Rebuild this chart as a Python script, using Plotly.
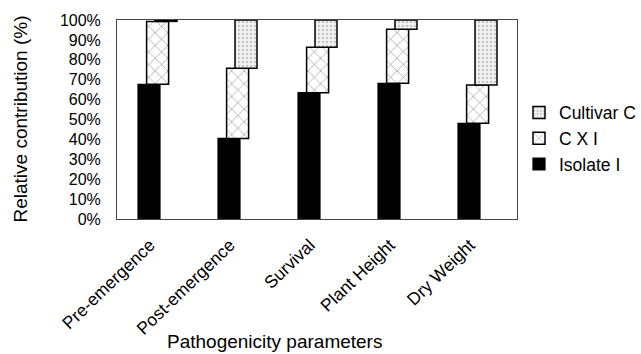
import plotly.graph_objects as go

categories = ["Pre-emergence", "Post-emergence", "Survival", "Plant Height", "Dry Weight"]
isolate_i = [67.7, 40.5, 63.5, 68.2, 48.1]
c_x_i = [31.6, 35.2, 22.8, 27.1, 19.2]
cultivar_c = [0.7, 24.3, 13.7, 4.7, 32.7]
y_ticks = [0, 10, 20, 30, 40, 50, 60, 70, 80, 90, 100]

FONT = "Arial, Liberation Sans, sans-serif"
base_cxi = isolate_i
base_cult = [a + b for a, b in zip(isolate_i, c_x_i)]

fig = go.Figure()
fig.add_trace(go.Bar(
    x=categories, y=isolate_i, name="Isolate I", width=0.275, offset=-0.2375,
    marker=dict(color="black", line=dict(color="black", width=1.2))))
fig.add_trace(go.Bar(
    x=categories, y=c_x_i, base=base_cxi, name="C X I", width=0.275, offset=-0.13,
    marker=dict(color="white", line=dict(color="black", width=1.5),
                pattern=dict(shape="x", fgcolor="black", bgcolor="white", size=9, solidity=0.12))))
fig.add_trace(go.Bar(
    x=categories, y=cultivar_c, base=base_cult, name="Cultivar C", width=0.275, offset=-0.025,
    marker=dict(color="#eeeeee", line=dict(color="black", width=1.5),
                pattern=dict(shape=".", fgcolor="#9a9a9a", bgcolor="#f2f2f2", size=4, solidity=0.3))))

fig.update_layout(
    width=641, height=354,
    margin=dict(l=117, r=124, t=20, b=135, autoexpand=False),
    barmode="overlay",
    plot_bgcolor="white", paper_bgcolor="white",
    font=dict(family=FONT, size=16, color="black"),
    showlegend=True,
    legend=dict(x=1.005, y=0.625, xanchor="left", yanchor="top", traceorder="reversed",
                font=dict(size=17.5, family=FONT),
                bgcolor="rgba(0,0,0,0)"),
    xaxis=dict(range=[-0.5, 4.5], showgrid=False, zeroline=False,
               showline=True, linecolor="#444", linewidth=1, mirror=True, ticks="",
               tickangle=-44, ticklabelstandoff=8, ticklabelshift=-7,
               tickfont=dict(size=17.5, family=FONT)),
    yaxis=dict(range=[0, 100], tickvals=y_ticks, ticktext=[f"{v}%" for v in y_ticks],
               showgrid=False, zeroline=False, showline=True, linecolor="#444",
               linewidth=1, mirror=True, ticks="", ticklabelstandoff=12,
               tickfont=dict(size=16, family=FONT)),
    annotations=[
        dict(text="Relative contribution (%)", xref="paper", yref="paper",
             x=-0.2425, y=0.5, textangle=-90, showarrow=False,
             xanchor="center", yanchor="middle", font=dict(size=19, family=FONT)),
        dict(text="Pathogenicity parameters", xref="paper", yref="paper",
             x=(274 - 117) / 400, y=(219 - 341) / 199, showarrow=False,
             xanchor="center", yanchor="middle", font=dict(size=19, family=FONT)),
    ],
)

fig.write_html("out.html")
